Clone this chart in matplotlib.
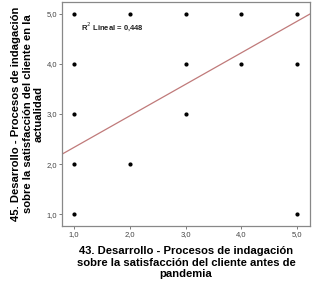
import matplotlib
matplotlib.use('Agg')
import matplotlib.pyplot as plt

# Data (x: antes de pandemia, y: en la actualidad)
x_vals = [1, 2, 3, 4, 5, 1, 3, 4, 5, 1, 3, 1, 2, 1, 5]
y_vals = [5, 5, 5, 5, 5, 4, 4, 4, 4, 3, 3, 2, 2, 1, 1]
fit_slope = 0.628
fit_intercept = 1.707
r2_text = 'R$^2$ Lineal = 0,448'
ticks = [1, 2, 3, 4, 5]
tick_labels = ['1,0', '2,0', '3,0', '4,0', '5,0']

plt.rcParams['font.family'] = ['Liberation Sans', 'DejaVu Sans']

fig = plt.figure(figsize=(3.27, 2.86), dpi=100)
ax = fig.add_axes([62 / 327, 1 - 226 / 286, 248 / 327, 224 / 286])

ax.scatter(x_vals, y_vals, s=4, color='black', zorder=3)

xlim = (0.785, 5.23)
ax.plot(xlim, [fit_intercept + fit_slope * v for v in xlim], color='#c07a7a', lw=0.9)
ax.set_xlim(xlim)
ax.set_ylim(0.77, 5.23)

ax.set_xticks(ticks)
ax.set_xticklabels(tick_labels)
ax.set_yticks(ticks)
ax.set_yticklabels(tick_labels)
ax.tick_params(labelsize=5.5, labelcolor='#444444', color='#666666', length=2, width=0.6, pad=1.5)
for sp in ax.spines.values():
    sp.set_color('#888888')
    sp.set_linewidth(0.9)

ax.text(1.13, 4.73, r2_text, fontsize=5.5, fontweight='bold', color='#222222', va='center')

ax.set_xlabel('43. Desarrollo - Procesos de indagación\nsobre la satisfacción del cliente antes de\npandemia',
              fontsize=8.1, fontweight='bold', linespacing=1.2, labelpad=6)
ax.set_ylabel('45. Desarrollo - Procesos de indagación\nsobre la satisfacción del cliente en la\nactualidad',
              fontsize=8.1, fontweight='bold', linespacing=1.15, labelpad=2)

fig.savefig('out.png', dpi=100)
